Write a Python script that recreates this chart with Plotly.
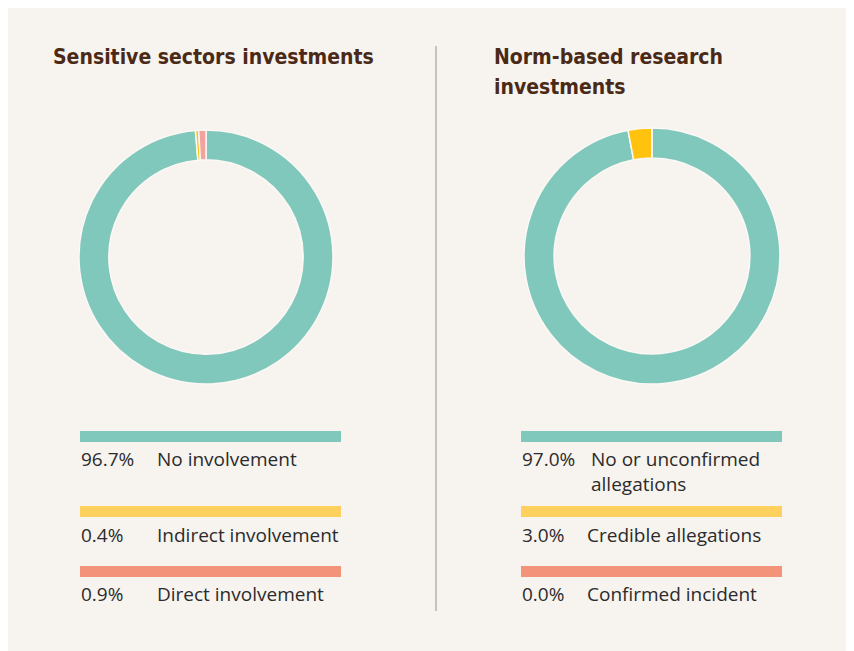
import plotly.graph_objects as go

# ---- data ----
left_title = "Sensitive sectors investments"
left_labels = ["No involvement", "Indirect involvement", "Direct involvement"]
left_values = [96.7, 0.4, 0.9]

right_title = "Norm-based research<br>investments"
right_labels = ["No or unconfirmed<br>allegations", "Credible allegations", "Confirmed incident"]
right_values = [97.0, 3.0, 0.0]

donut_colors = ["#80c8bb", "#ffc20e", "#f3a2a0"]
legend_colors = ["#80c8bb", "#ffd05e", "#f3937a"]

W, H = 854, 651
OFF = 8  # page body margin offset
BG = "#f7f3ef"
TITLE_COLOR = "#4a2a16"
TEXT_COLOR = "#2b2b2b"
TITLE_FONT = "DejaVu Sans Condensed"
TEXT_FONT = "Open Sans"


def px(x):
    return (x - OFF) / W


def py(y):
    return 1 - (y - OFF) / H


fig = go.Figure()

# donuts
for vals, labels, cx, cy, r in [
    (left_values, left_labels, 206, 257, 127),
    (right_values, right_labels, 652, 256, 128),
]:
    fig.add_trace(go.Pie(
        values=vals,
        labels=[l.replace("<br>", " ") for l in labels],
        hole=0.765,
        sort=False,
        direction="clockwise",
        rotation=0,
        textinfo="none",
        hoverinfo="label+percent",
        marker=dict(colors=donut_colors, line=dict(color="#fbf8f5", width=1.5)),
        domain=dict(x=[px(cx - r), px(cx + r)], y=[py(cy + r), py(cy - r)]),
        showlegend=False,
    ))

shapes = [
    # divider
    dict(type="line", xref="paper", yref="paper", x0=px(436), x1=px(436), y0=py(46), y1=py(611),
         line=dict(color="#9c8f84", width=1)),
]

annotations = []
for title, tx in [(left_title, 51), (right_title, 492)]:
    for k, line in enumerate(title.split("<br>")):
        annotations.append(dict(text="<b>" + line + "</b>", x=px(tx), y=py(57 + 30 * k),
                                xanchor="left", yanchor="middle", showarrow=False,
                                xref="paper", yref="paper", align="left",
                                font=dict(family=TITLE_FONT, size=21, color=TITLE_COLOR)))

bar_tops = [431, 506, 566]
text_rows = [459, 535, 594]
panels = [
    (left_values, left_labels, 80, 341, [156, 156, 156]),
    (right_values, right_labels, 521, 782, [590, 586, 586]),
]
LINE_H = 19 * 1.3
for vals, labels, x0, x1, lx in panels:
    for i, (v, lab) in enumerate(zip(vals, labels)):
        shapes.append(dict(type="rect", xref="paper", yref="paper",
                           x0=px(x0), x1=px(x1), y0=py(bar_tops[i] + 11), y1=py(bar_tops[i]),
                           fillcolor=legend_colors[i], line=dict(width=0)))
        annotations.append(dict(text=f"{v:.1f}%", x=px(x0 - 1), y=py(text_rows[i]),
                                xanchor="left", yanchor="middle", showarrow=False,
                                xref="paper", yref="paper",
                                font=dict(family=TEXT_FONT, size=19, color=TEXT_COLOR)))
        nlines = lab.count("<br>")
        annotations.append(dict(text=lab, x=px(lx[i] - 1),
                                y=py(text_rows[i] + LINE_H * nlines / 2),
                                xanchor="left", yanchor="middle", showarrow=False, align="left",
                                xref="paper", yref="paper",
                                font=dict(family=TEXT_FONT, size=19, color=TEXT_COLOR)))

fig.update_layout(
    width=W, height=H,
    margin=dict(l=0, r=0, t=0, b=0),
    paper_bgcolor=BG,
    plot_bgcolor=BG,
    shapes=shapes,
    annotations=annotations,
)

fig.write_html("out.html")
